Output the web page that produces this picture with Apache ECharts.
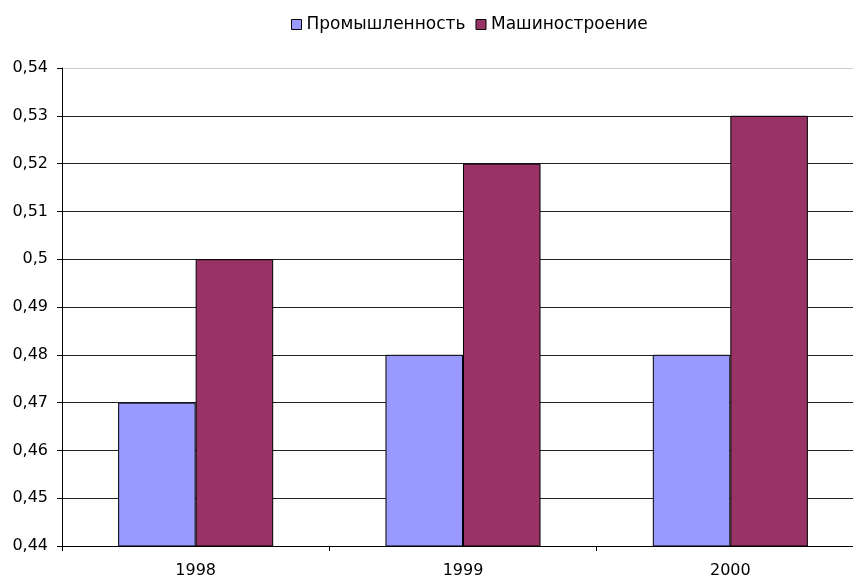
<!DOCTYPE html>
<html>
<head>
<meta charset="utf-8">
<script src="https://cdn.jsdelivr.net/npm/echarts@6/dist/echarts.min.js"></script>
<style>
  html, body { margin: 0; padding: 0; background: #fff; overflow: hidden; }
  /* область построения уходит за правый край окна, как в оригинале */
  #chart { width: 864px; height: 581px; }
</style>
</head>
<body>
<div id="chart"></div>
<script>
// данные
var years = ["1998", "1999", "2000"];
var industry = [0.47, 0.48, 0.48];
var machinery = [0.50, 0.52, 0.53];

var mychart = echarts.init(document.getElementById("chart"));

// цвета линий сетки: верхняя линия светлая
var gridColors = ["#222", "#222", "#222", "#222", "#222", "#222", "#222", "#222", "#222", "#222", "#ccc"];

var option = {
  backgroundColor: "#fff",
  textStyle: { fontFamily: "DejaVu Sans, Liberation Sans, sans-serif" },
  legend: {
    top: 11,
    left: 286,
    itemWidth: 10,
    itemHeight: 10,
    itemGap: 10,
    textStyle: { fontSize: 17, color: "#000" },
    data: [
      { name: "Промышленность", icon: "rect", itemStyle: { borderColor: "#000", borderWidth: 1 } },
      { name: "Машиностроение", icon: "rect", itemStyle: { borderColor: "#000", borderWidth: 1 } }
    ]
  },
  grid: { left: 62, right: 0, top: 68, bottom: 35 },
  xAxis: {
    type: "category",
    data: years,
    axisLine: { lineStyle: { color: "#000", width: 1 } },
    axisTick: { show: true, length: 5, lineStyle: { color: "#000" } },
    axisLabel: { color: "#000", fontSize: 16, margin: 17 }
  },
  yAxis: {
    type: "value",
    min: 0.44,
    max: 0.54,
    interval: 0.01,
    axisLine: { show: true, lineStyle: { color: "#000" } },
    axisTick: { show: true, length: 5, lineStyle: { color: "#000" } },
    axisLabel: {
      color: "#000",
      fontSize: 16,
      margin: 14,
      formatter: function (v) {
        return String(parseFloat(v.toFixed(2))).replace(".", ",");
      }
    },
    splitLine: { lineStyle: { color: gridColors, width: 1 } }
  },
  series: [
    {
      name: "Промышленность",
      type: "bar",
      data: industry,
      barGap: "0%",
      barCategoryGap: "42%",
      itemStyle: { color: "#9999FF", borderColor: "#000", borderWidth: 1 }
    },
    {
      name: "Машиностроение",
      type: "bar",
      data: machinery,
      itemStyle: { color: "#993366", borderColor: "#000", borderWidth: 1 }
    }
  ]
};

mychart.setOption(option);
</script>
</body>
</html>
